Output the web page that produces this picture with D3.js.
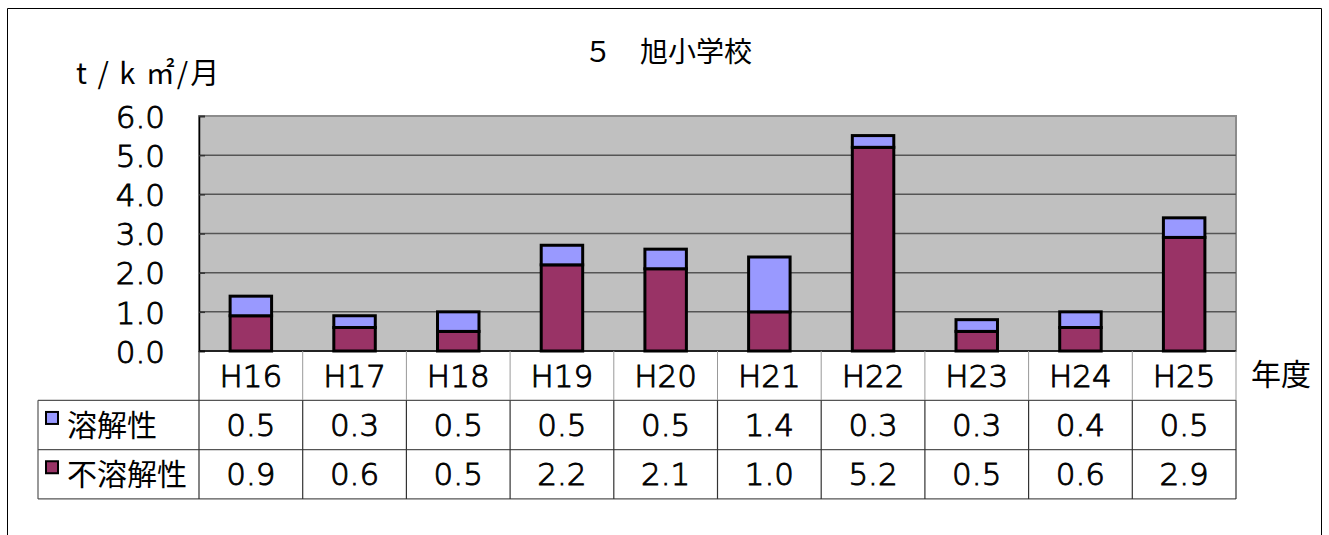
<!DOCTYPE html>
<html>
<head>
<meta charset="utf-8">
<script src="https://cdn.jsdelivr.net/npm/d3@7"></script>
<style>
  body { margin: 0; background: #fff; }
  svg text { font-family: "Noto Sans CJK JP", "Noto Sans", sans-serif; fill: #000; }
  svg text.num { font-family: "DejaVu Sans", sans-serif; font-weight: 200; stroke: #000; stroke-width: 0.9px; }
</style>
</head>
<body>
<div id="chart"></div>
<script>
// data
const years = ['H16', 'H17', 'H18', 'H19', 'H20', 'H21', 'H22', 'H23', 'H24', 'H25'];
const soluble = [0.5, 0.3, 0.5, 0.5, 0.5, 1.4, 0.3, 0.3, 0.4, 0.5];
const insoluble = [0.9, 0.6, 0.5, 2.2, 2.1, 1.0, 5.2, 0.5, 0.6, 2.9];
const seriesNames = ['溶解性', '不溶解性'];
const yTicks = [0, 1, 2, 3, 4, 5, 6];

const width = 1329, height = 535;
const plot = { left: 199, right: 1236, top: 116, bottom: 351 };
const rowH = 49.3;
const tableLeft = 38;

const colors = { '溶解性': '#9999ff', '不溶解性': '#993366' };

const svg = d3.select('#chart').append('svg')
    .attr('width', width)
    .attr('height', height);

// outer frame (bottom edge is cut off in the original)
svg.append('path')
    .attr('d', `M7.5,${height + 5}V8.5H1321.5V${height + 5}`)
    .attr('fill', 'none')
    .attr('stroke', '#000')
    .attr('stroke-width', 1);

// scales
const x = d3.scaleBand()
    .domain(years)
    .range([plot.left, plot.right]);

const y = d3.scaleLinear()
    .domain([0, 6])
    .range([plot.bottom, plot.top]);

// plot background
svg.append('rect')
    .attr('x', plot.left)
    .attr('y', plot.top)
    .attr('width', plot.right - plot.left)
    .attr('height', plot.bottom - plot.top)
    .attr('fill', '#c0c0c0')
    .attr('stroke', '#8c8c8c')
    .attr('stroke-width', 2);

// gridlines
svg.append('g')
    .selectAll('line')
    .data(yTicks.slice(1, -1))
    .join('line')
    .attr('x1', plot.left)
    .attr('x2', plot.right)
    .attr('y1', d => y(d))
    .attr('y2', d => y(d))
    .attr('stroke', '#555')
    .attr('stroke-width', 1.5);

// y axis
const yAxis = d3.axisLeft(y)
    .tickValues(yTicks)
    .tickFormat(d3.format('.1f'))
    .tickSize(-6)
    .tickPadding(34);

const yg = svg.append('g')
    .attr('transform', `translate(${plot.left},0)`)
    .call(yAxis);
yg.select('.domain').attr('stroke', '#000').attr('stroke-width', 1.5);
yg.selectAll('.tick line').attr('stroke', '#333').attr('stroke-width', 1.5);
yg.selectAll('.tick text')
    .attr('class', 'num')
    .style('font-size', '31px')
    .attr('dy', '0.36em');

// stacked bars
const rows = years.map((yr, i) => ({ year: yr, '溶解性': soluble[i], '不溶解性': insoluble[i] }));
const stack = d3.stack().keys(['不溶解性', '溶解性']);
const layers = stack(rows);
const barW = x.bandwidth() * 0.4;

svg.append('g')
    .selectAll('g')
    .data(layers)
    .join('g')
    .attr('fill', d => colors[d.key])
    .selectAll('rect')
    .data(d => d)
    .join('rect')
    .attr('x', d => x(d.data.year) + (x.bandwidth() - barW) / 2)
    .attr('y', d => y(d[1]))
    .attr('width', barW)
    .attr('height', d => y(d[0]) - y(d[1]))
    .attr('stroke', '#000')
    .attr('stroke-width', 3);

// x axis baseline
svg.append('line')
    .attr('x1', plot.left).attr('x2', plot.right)
    .attr('y1', plot.bottom).attr('y2', plot.bottom)
    .attr('stroke', '#000').attr('stroke-width', 1.5);

// data table
const table = svg.append('g');
const tBottom = plot.bottom + rowH * 3;

[1, 2, 3].forEach(r => {
    table.append('line')
        .attr('x1', tableLeft)
        .attr('x2', plot.right)
        .attr('y1', plot.bottom + rowH * r)
        .attr('y2', plot.bottom + rowH * r)
        .attr('stroke', '#555')
        .attr('stroke-width', 1.2);
});
years.forEach(yr => {
    const cx = x(yr) + x.bandwidth();
    table.append('line')
        .attr('x1', cx).attr('x2', cx)
        .attr('y1', plot.bottom).attr('y2', plot.bottom + rowH)
        .attr('stroke', '#999').attr('stroke-width', 1);
    table.append('line')
        .attr('x1', cx).attr('x2', cx)
        .attr('y1', plot.bottom + rowH).attr('y2', tBottom)
        .attr('stroke', '#333').attr('stroke-width', 1.2);
});
table.append('line')
    .attr('x1', plot.left).attr('x2', plot.left)
    .attr('y1', plot.bottom).attr('y2', tBottom)
    .attr('stroke', '#333').attr('stroke-width', 1.2);
table.append('line')
    .attr('x1', tableLeft).attr('x2', tableLeft)
    .attr('y1', plot.bottom + rowH).attr('y2', tBottom)
    .attr('stroke', '#555').attr('stroke-width', 1.2);

// category labels
table.selectAll('.cat')
    .data(years)
    .join('text')
    .attr('class', 'num')
    .attr('x', d => x(d) + x.bandwidth() / 2)
    .attr('y', plot.bottom + rowH / 2)
    .attr('dy', '0.36em')
    .attr('text-anchor', 'middle')
    .style('font-size', '31px')
    .text(d => d);

// value rows + legend keys
[soluble, insoluble].forEach((vals, r) => {
    const cy = plot.bottom + rowH * (r + 1.5);
    table.append('g')
        .selectAll('text')
        .data(vals)
        .join('text')
        .attr('class', 'num')
        .attr('x', (d, i) => x(years[i]) + x.bandwidth() / 2)
        .attr('y', cy)
        .attr('dy', '0.36em')
        .attr('text-anchor', 'middle')
        .style('font-size', '31px')
        .text(d => d3.format('.1f')(d));

    const name = seriesNames[r];
    table.append('rect')
        .attr('x', 46)
        .attr('y', cy - 13)
        .attr('width', 12)
        .attr('height', 12)
        .attr('fill', colors[name])
        .attr('stroke', '#000')
        .attr('stroke-width', 2);
    table.append('text')
        .attr('x', 67)
        .attr('y', cy)
        .attr('dy', '0.36em')
        .style('font-size', '30px')
        .text(name);
});

// titles
svg.append('text')
    .attr('x', 668)
    .attr('y', 52)
    .attr('dy', '0.36em')
    .attr('text-anchor', 'middle')
    .style('font-size', '28px')
    .text('５　旭小学校');

svg.append('text')
    .attr('x', 76)
    .attr('y', 74)
    .attr('dy', '0.36em')
    .style('font-size', '29px')
    .style('letter-spacing', '2px')
    .text('t / k ㎡/月');

svg.append('text')
    .attr('x', 1251)
    .attr('y', plot.bottom + rowH / 2 - 1)
    .attr('dy', '0.36em')
    .style('font-size', '30px')
    .text('年度');
</script>
</body>
</html>
